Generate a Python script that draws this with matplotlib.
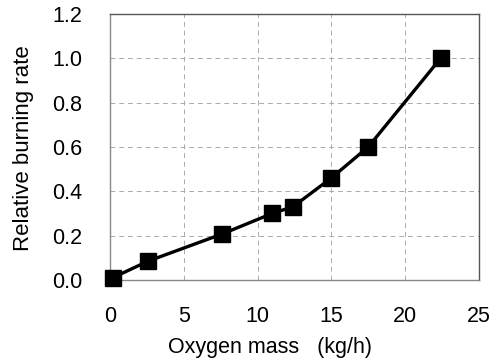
import matplotlib
matplotlib.use("Agg")
from matplotlib import pyplot as plt

# data
oxygen_mass = [0.2, 2.6, 7.6, 11.0, 12.4, 15.0, 17.5, 22.4]
burning_rate = [0.01, 0.085, 0.207, 0.30, 0.33, 0.46, 0.60, 1.0]
x_ticks = [0, 5, 10, 15, 20, 25]
y_ticks = [0.0, 0.2, 0.4, 0.6, 0.8, 1.0, 1.2]

plt.rcParams["font.family"] = ["Liberation Sans", "DejaVu Sans"]

fig = plt.figure(figsize=(4.97, 3.64), dpi=100)
ax = fig.add_axes([0.221, 0.231, 0.743, 0.731])

ax.plot(oxygen_mass, burning_rate, color="black", linewidth=2.4,
        marker="s", markersize=11, markerfacecolor="black", zorder=3,
        clip_on=False)

ax.set_xlim(0, 25)
ax.set_ylim(0, 1.2)
ax.set_xticks(x_ticks)
ax.set_yticks(y_ticks)
ax.set_yticklabels([f"{v:.1f}" for v in y_ticks])
ax.tick_params(length=0, labelsize=15.5, pad=20)
ax.tick_params(axis="x", pad=19)

ax.grid(True, linestyle=(0, (5, 4)), color="#aaaaaa", linewidth=0.7)
for name, side in ax.spines.items():
    side.set_color("#888888")
    side.set_linewidth(1.0)
ax.spines["top"].set_color("#555555")
ax.spines["right"].set_color("#555555")

ax.set_xlabel("Oxygen mass   (kg/h)", fontsize=15.5)
ax.set_ylabel("Relative burning rate", fontsize=16)
ax.xaxis.set_label_coords(0.435, -0.215)
ax.yaxis.set_label_coords(-0.205, 0.495)

fig.savefig("out.png", dpi=100)
